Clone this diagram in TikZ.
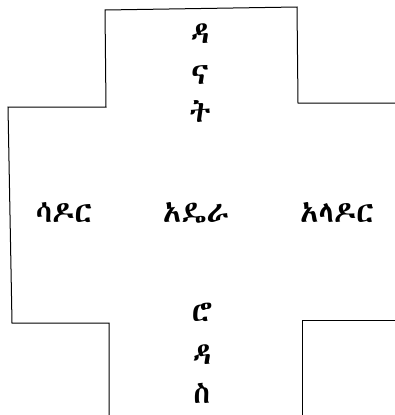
\documentclass[tikz,border=0pt]{standalone}
\usepackage{fontspec}
\IfFontExistsTF{Abyssinica SIL}{\newfontfamily\ethfont{Abyssinica SIL}}{%
  \IfFontExistsTF{Noto Sans Ethiopic}{\newfontfamily\ethfont{Noto Sans Ethiopic}}{%
    \newfontfamily\ethfont{FreeSerif}}}
\usepackage{tikz}
\usetikzlibrary{positioning}

\begin{document}
\begin{tikzpicture}[x=1pt,y=-1pt,
    word/.style={font=\ethfont\fontsize{30}{36}\selectfont, inner sep=0pt, anchor=base}]
    \useasboundingbox (0,0) rectangle (395,415);
    % outline of the cross
    \draw[line width=1pt] (109,415) -- (109,323) -- (12,323) -- (8,107) -- (106,107)
        -- (105,10) -- (297,7) -- (298,103) -- (395,103);
    \draw[line width=1pt] (395,320) -- (302,320) -- (302,415);

    % upper arm
    \node[word] (da) at (200,43) {ዳ};
    \node[word] (na) at (200,84) {ና};
    \node[word] (tt) at (200,122) {ት};
    % middle row
    \node[word] (sador) at (64,222) {ሳዶር};
    \node[word] (adera) at (196,222) {አዴራ};
    \node[word] (alador) at (337,222) {አላዶር};
    % lower arm
    \node[word] (ro) at (202,321) {ሮ};
    \node[word] (dab) at (202,364) {ዳ};
    \node[word] (se) at (202,403) {ስ};
\end{tikzpicture}
\end{document}
